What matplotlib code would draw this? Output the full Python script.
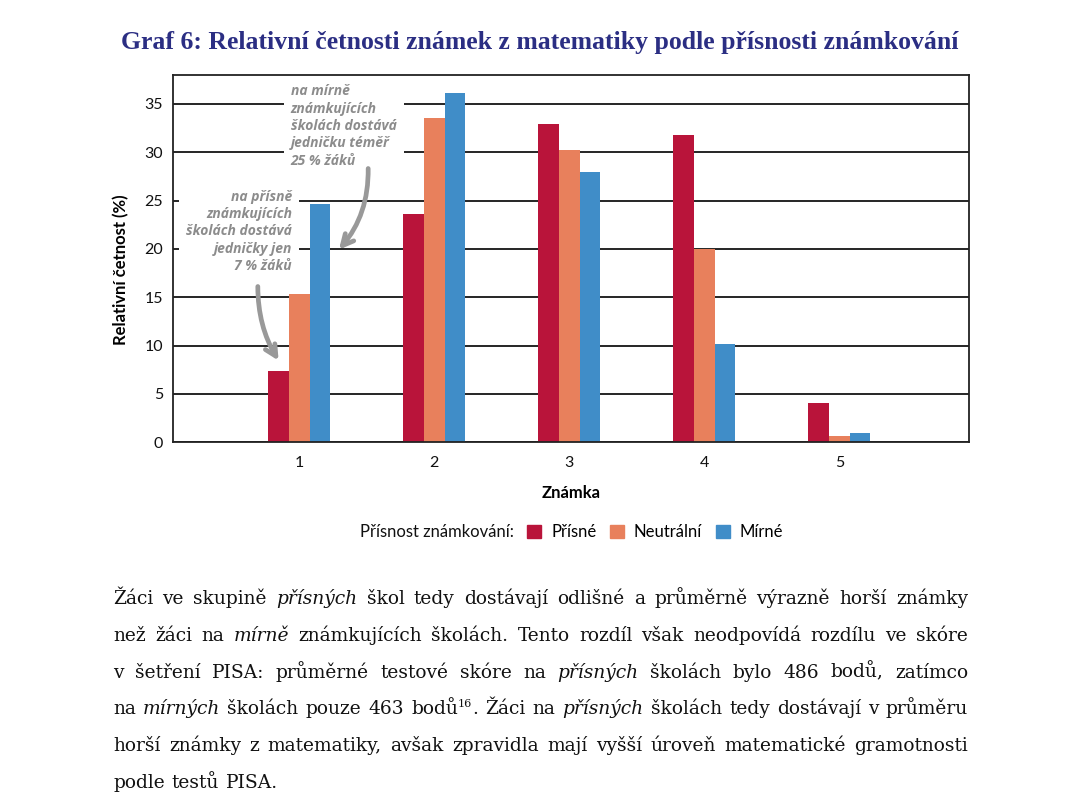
import re
import numpy as np
import matplotlib.pyplot as plt
from matplotlib.patches import Patch

# data
grades = [1, 2, 3, 4, 5]
prisne = [7.4, 23.6, 32.9, 31.8, 4.1]
neutralni = [15.3, 33.5, 30.2, 20.0, 0.7]
mirne = [24.6, 36.1, 28.0, 10.2, 0.95]
series_names = ['Přísné', 'Neutrální', 'Mírné']
series_colors = ['#B9143A', '#E8805C', '#408DC8']
yticks = [0, 5, 10, 15, 20, 25, 30, 35]

title = 'Graf 6: Relativní četnosti známek z matematiky podle přísnosti známkování'
note_mirne = 'na mírně\nznámkujících\nškolách dostává\njedničku téměř\n25 % žáků'
note_prisne = 'na přísně\nznámkujících\nškolách dostává\njedničky jen\n7 % žáků'

# *slovo* = kurzíva, ^16 = horní index
paragraph = [
    'Žáci ve skupině *přísných* škol tedy dostávají odlišné a průměrně výrazně horší známky',
    'než žáci na *mírně* známkujících školách. Tento rozdíl však neodpovídá rozdílu ve skóre',
    'v šetření PISA: průměrné testové skóre na *přísných* školách bylo 486 bodů, zatímco',
    'na *mírných* školách pouze 463 bodů^16. Žáci na *přísných* školách tedy dostávají v průměru',
    'horší známky z matematiky, avšak zpravidla mají vyšší úroveň matematické gramotnosti',
    'podle testů PISA.',
]

W, H = 1080, 806
fig = plt.figure(figsize=(W / 100, H / 100), dpi=100)
ax = fig.add_axes([0.160, 0.4512, 0.7375, 0.456])

x = np.array(grades)
w = 0.153
for i, (vals, name, col) in enumerate(zip([prisne, neutralni, mirne], series_names, series_colors)):
    ax.bar(x + (i - 1) * w, vals, w, color=col, label=name)

ax.set_xlim(0.062, 5.963)
ax.set_ylim(0, 38)
ax.set_xticks(grades)
ax.set_yticks(yticks)
ax.tick_params(length=0, labelsize=11.5, labelcolor='#111111')
ax.tick_params(axis='y', pad=7)
ax.tick_params(axis='x', pad=10)
for lab in ax.get_xticklabels() + ax.get_yticklabels():
    lab.set_family('Lato')
ax.yaxis.grid(True, color='black', lw=1.2)
ax.set_axisbelow(True)
for s in ax.spines.values():
    s.set_color('#222222')
    s.set_linewidth(1.3)

ax.set_xlabel('Známka', fontsize=12, fontweight='bold', family='Lato')
ax.xaxis.set_label_coords(0.5, -0.115)
ax.set_ylabel('Relativní četnost (%)', fontsize=12, fontweight='bold', family='Lato')
ax.yaxis.set_label_coords(-0.055, 0.471)

# poznámky se šipkami
note_kw = dict(fontsize=10, color='#8c8c8c', family='Open Sans', style='italic',
               fontweight='bold', linespacing=1.3,
               bbox=dict(facecolor='white', edgecolor='none', pad=5), zorder=3)
ax.text(0.936, 37.0, note_mirne, ha='left', va='top', **note_kw)
ax.text(0.944, 26.1, note_prisne, ha='right', va='top', multialignment='right', **note_kw)

arrow_kw = dict(arrowstyle='->,head_length=0.8,head_width=0.4', color='#999999', lw=3.4)
ax.annotate('', xy=(1.279, 19.7), xytext=(1.509, 28.6),
            arrowprops=dict(connectionstyle='arc3,rad=-0.2', **arrow_kw))
ax.annotate('', xy=(0.857, 8.2), xytext=(0.692, 16.4),
            arrowprops=dict(connectionstyle='arc3,rad=0.15', **arrow_kw))

# nadpis
fig.text(0.5, 1 - 42 / H, title, ha='center', va='center', fontsize=18.5,
         fontweight='bold', family='Liberation Serif', color='#2B2E83')

# legenda
fig.text(360 / W, 1 - 532 / H, 'Přísnost známkování:', ha='left', va='center',
         fontsize=12, family='Lato', color='#111111')
handles = [Patch(color=c) for c in series_colors]
fig.legend(handles, series_names, loc='center left', bbox_to_anchor=(527 / W, 1 - 532 / H),
           ncol=3, frameon=False, prop={'family': 'Lato', 'size': 12},
           handlelength=0.85, handleheight=0.85, handletextpad=0.6, columnspacing=0.8,
           borderpad=0, borderaxespad=0)

# odstavec textu do bloku
renderer = fig.canvas.get_renderer()
left, right = 113, 968
baselines = [604, 641, 677.5, 714, 751, 788]
space_px = 7


def split_word(word):
    italic = word.startswith('*') and word.endswith('*')
    word = word.strip('*')
    parts = []
    for seg in re.split(r'(\^\d+)', word):
        if not seg:
            continue
        if seg.startswith('^'):
            parts.append((seg[1:], 'sup'))
        else:
            parts.append((seg, 'i' if italic else 'n'))
    return parts


def make_word(word, fs):
    arts = []
    for txt, st in split_word(word):
        t = fig.text(0, 0, txt, family='DejaVu Serif', color='#111111',
                     fontsize=fs * 0.6 if st == 'sup' else fs,
                     style='italic' if st == 'i' else 'normal', va='baseline', ha='left')
        arts.append((t, st, t.get_window_extent(renderer).width))
    return arts


# velikost písma tak, aby mezery mezi slovy vyšly kolem 7 px
fs0 = 12.8
ratios = []
for line in paragraph[:-1]:
    ws = [make_word(wd, fs0) for wd in line.split(' ')]
    total = sum(a[2] for wd in ws for a in wd)
    for wd in ws:
        for a in wd:
            a[0].remove()
    ratios.append((right - left - (len(ws) - 1) * space_px) / total)
fs = fs0 * min(ratios)

for n, (line, yb) in enumerate(zip(paragraph, baselines)):
    words = [make_word(wd, fs) for wd in line.split(' ')]
    widths = [sum(a[2] for a in wd) for wd in words]
    if n < len(paragraph) - 1:
        gap = (right - left - sum(widths)) / (len(words) - 1)
    else:
        gap = space_px
    xc = left
    for wd, ww in zip(words, widths):
        xx = xc
        for t, st, tw in wd:
            yy = yb - (fs * 0.4 * 100 / 72 if st == 'sup' else 0)
            t.set_position((xx / W, 1 - yy / H))
            xx += tw
        xc += ww + gap

fig.savefig('out.png', dpi=100)
